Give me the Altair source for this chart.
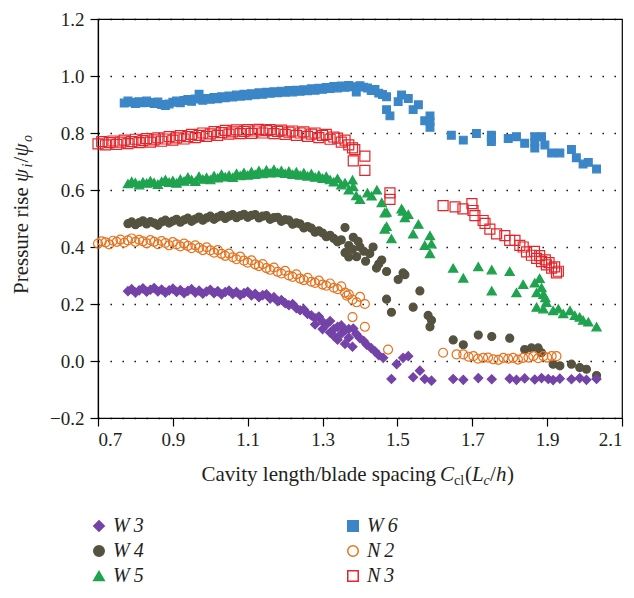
import altair as alt
import pandas as pd

SERIF = "Liberation Serif"
INK = "#231f20"

# ---------------- data ----------------
W6_x = [0.77,0.78,0.79,0.80,0.81,0.82,0.83,0.84,0.85,0.86,
        0.87,0.88,0.89,0.90,0.91,0.92,0.93,0.94,0.95,0.96,
        0.97,0.98,0.99,1.00,1.01,1.02,1.03,1.04,1.05,1.06,
        1.07,1.08,1.09,1.10,1.11,1.12,1.13,1.14,1.15,1.16,
        1.17,1.18,1.19,1.20,1.21,1.22,1.23,1.24,1.25,1.26,
        1.27,1.28,1.29,1.30,1.31,1.32,1.33,1.34,1.35,1.36,
        1.37,1.38,1.39,1.40,1.41,1.42,1.43,1.44,1.45,1.46,
        1.471,1.471,1.48,1.502,1.511,1.529,1.542,1.556,1.573,
        1.587,1.587,1.587,1.644,1.676,1.711,1.751,1.751,1.751,
        1.796,1.818,1.84,1.867,1.867,1.867,
        1.885,1.894,1.912,1.934,1.965,1.978,1.996,2.01,2.032]
W6_y = [0.905,0.912,0.908,0.903,0.910,0.906,0.912,0.907,0.903,0.909,
        0.900,0.896,0.902,0.908,0.912,0.906,0.914,0.918,0.911,0.919,
        0.936,0.915,0.921,0.918,0.925,0.920,0.927,0.924,0.930,0.926,
        0.933,0.929,0.936,0.931,0.938,0.934,0.941,0.936,0.943,0.939,
        0.945,0.941,0.947,0.943,0.949,0.944,0.950,0.946,0.952,0.948,
        0.955,0.950,0.957,0.953,0.960,0.956,0.963,0.958,0.965,0.960,
        0.967,0.962,0.944,0.966,0.961,0.958,0.949,0.953,0.940,0.935,
        0.927,0.882,0.86,0.91,0.933,0.921,0.882,0.899,0.843,
        0.86,0.84,0.82,0.792,0.775,0.798,0.792,0.78,0.77,
        0.781,0.787,0.764,0.787,0.767,0.747,
        0.787,0.758,0.73,0.73,0.742,0.713,0.691,0.697,0.674]

N3_x = [0.70,0.71,0.72,0.73,0.74,0.75,0.76,0.77,0.78,0.79,
        0.80,0.81,0.82,0.83,0.84,0.85,0.86,0.87,0.88,0.89,
        0.90,0.91,0.92,0.93,0.94,0.95,0.96,0.97,0.98,0.99,
        1.00,1.01,1.02,1.03,1.04,1.05,1.06,1.07,1.08,1.09,
        1.10,1.11,1.12,1.13,1.14,1.15,1.16,1.17,1.18,1.19,
        1.20,1.21,1.22,1.23,1.24,1.25,1.26,1.27,1.28,1.29,
        1.30,1.31,1.32,1.33,1.34,1.35,1.36,1.37,1.38,
        1.386,1.413,1.382,1.413,1.48,1.48,
        1.622,1.654,1.675,1.699,1.702,1.707,1.729,1.734,
        1.747,1.765,1.787,1.800,1.814,1.827,1.836,1.845,
        1.858,1.872,1.885,1.898,1.912,1.925,
        1.866,1.88,1.895,1.905,1.92,1.93]
N3_y = [0.762,0.770,0.758,0.766,0.772,0.760,0.768,0.775,0.763,0.770,
        0.778,0.766,0.773,0.780,0.768,0.776,0.783,0.771,0.779,0.787,
        0.775,0.783,0.791,0.779,0.787,0.795,0.784,0.792,0.800,0.788,
        0.797,0.805,0.792,0.801,0.809,0.796,0.804,0.811,0.798,0.806,
        0.812,0.799,0.807,0.813,0.800,0.808,0.812,0.798,0.806,0.810,
        0.795,0.803,0.807,0.792,0.800,0.804,0.788,0.796,0.800,0.784,
        0.792,0.795,0.778,0.786,0.782,0.768,0.775,0.758,0.748,
        0.742,0.719,0.702,0.669,0.59,0.567,
        0.545,0.541,0.534,0.552,0.528,0.51,0.493,0.483,
        0.463,0.446,0.440,0.423,0.423,0.406,0.40,0.383,
        0.371,0.360,0.349,0.337,0.326,0.309,
        0.385,0.37,0.355,0.345,0.33,0.315]

W5_x = [0.78,0.79,0.80,0.81,0.82,0.83,0.84,0.85,0.86,0.87,
        0.88,0.89,0.90,0.91,0.92,0.93,0.94,0.95,0.96,0.97,
        0.98,0.99,1.00,1.01,1.02,1.03,1.04,1.05,1.06,1.07,
        1.08,1.09,1.10,1.11,1.12,1.13,1.14,1.15,1.16,1.17,
        1.18,1.19,1.20,1.21,1.22,1.23,1.24,1.25,1.26,1.27,
        1.28,1.29,1.30,1.31,1.32,1.33,1.34,1.35,1.36,1.37,
        1.38,1.39,1.40,
        1.382,1.42,1.431,1.445,1.458,1.466,1.471,1.466,1.471,1.484,
        1.511,1.515,1.52,1.529,1.542,1.556,1.573,1.587,1.591,1.587,
        1.649,1.676,1.716,1.752,1.80,1.752,1.818,1.836,1.867,1.872,
        1.885,1.89,1.898,1.872,1.89,1.88,1.895,1.916,1.93,1.943,
        1.961,1.974,1.987,1.996,2.01,2.032]
W5_y = [0.622,0.630,0.626,0.618,0.628,0.624,0.632,0.626,0.620,0.630,
        0.636,0.627,0.633,0.624,0.638,0.631,0.645,0.636,0.630,0.648,
        0.638,0.644,0.636,0.650,0.642,0.655,0.646,0.652,0.644,0.658,
        0.650,0.661,0.652,0.664,0.655,0.668,0.657,0.670,0.660,0.672,
        0.661,0.668,0.658,0.666,0.655,0.663,0.652,0.660,0.649,0.657,
        0.645,0.652,0.641,0.648,0.636,0.628,0.640,0.618,0.625,0.600,
        0.635,0.580,0.567,
        0.612,0.59,0.579,0.60,0.556,0.52,0.522,0.463,0.472,0.429,
        0.534,0.526,0.503,0.514,0.446,0.48,0.406,0.44,0.411,0.377,
        0.326,0.291,0.331,0.32,0.314,0.246,0.24,0.269,0.274,0.24,
        0.257,0.234,0.206,0.189,0.183,0.29,0.222,0.177,0.183,0.166,
        0.177,0.16,0.154,0.143,0.137,0.12]

W4_x = [0.78,0.79,0.80,0.81,0.82,0.83,0.84,0.85,0.86,0.87,
        0.88,0.89,0.90,0.91,0.92,0.93,0.94,0.95,0.96,0.97,
        0.98,0.99,1.00,1.01,1.02,1.03,1.04,1.05,1.06,1.07,
        1.08,1.09,1.10,1.11,1.12,1.13,1.14,1.15,1.16,1.17,
        1.18,1.19,1.20,1.21,1.22,1.23,1.24,1.25,1.26,1.27,
        1.28,1.29,1.30,1.31,1.32,1.33,1.34,1.35,1.36,1.37,
        1.38,
        1.36,1.37,1.382,1.391,1.40,1.41,1.426,1.444,1.458,1.471,
        1.471,1.484,1.502,1.515,1.52,1.542,1.56,1.582,1.591,1.587,
        1.649,1.676,1.716,1.752,1.80,1.84,1.858,1.876,1.885,1.916,
        1.934,1.965,1.987,2.005,2.032,
        1.395,1.415,1.435,1.45]
W4_y = [0.482,0.488,0.478,0.486,0.492,0.481,0.489,0.484,0.476,0.488,
        0.494,0.484,0.491,0.497,0.487,0.495,0.501,0.490,0.498,0.505,
        0.494,0.502,0.508,0.497,0.505,0.511,0.500,0.508,0.514,0.503,
        0.510,0.515,0.504,0.511,0.514,0.502,0.508,0.510,0.497,0.503,
        0.504,0.490,0.496,0.494,0.480,0.485,0.481,0.467,0.472,0.466,
        0.452,0.457,0.449,0.436,0.441,0.430,0.418,0.425,0.468,0.405,
        0.392,
        0.38,0.365,0.434,0.366,0.40,0.385,0.377,0.326,0.354,0.314,
        0.217,0.171,0.286,0.309,0.303,0.189,0.246,0.16,0.143,0.12,
        0.074,0.057,0.091,0.086,0.08,0.04,0.046,0.046,0.029,-0.011,
        -0.017,-0.011,-0.023,-0.029,-0.051,
        0.42,0.35,0.40,0.34]

N2_x = [0.70,0.71,0.72,0.73,0.74,0.75,0.76,0.77,0.78,0.79,
        0.80,0.81,0.82,0.83,0.84,0.85,0.86,0.87,0.88,0.89,
        0.90,0.91,0.92,0.93,0.94,0.95,0.96,0.97,0.98,0.99,
        1.00,1.01,1.02,1.03,1.04,1.05,1.06,1.07,1.08,1.09,
        1.10,1.11,1.12,1.13,1.14,1.15,1.16,1.17,1.18,1.19,
        1.20,1.21,1.22,1.23,1.24,1.25,1.26,1.27,1.28,1.29,
        1.30,1.31,1.32,1.33,1.34,1.35,1.36,1.37,
        1.365,1.38,1.391,1.40,1.413,1.38,1.413,1.475,
        1.622,1.658,1.676,1.69,1.703,1.715,1.729,1.742,1.756,1.77,
        1.783,1.796,1.809,1.822,1.836,1.85,1.863,1.876,1.89,1.90,
        1.912,1.925]
N2_y = [0.412,0.420,0.416,0.409,0.422,0.418,0.426,0.415,0.423,0.430,
        0.418,0.425,0.420,0.413,0.424,0.418,0.410,0.421,0.414,0.406,
        0.417,0.409,0.402,0.412,0.404,0.396,0.406,0.397,0.389,0.399,
        0.388,0.380,0.389,0.376,0.369,0.377,0.364,0.357,0.366,0.352,
        0.345,0.353,0.339,0.333,0.340,0.326,0.320,0.328,0.313,0.307,
        0.316,0.300,0.295,0.304,0.289,0.284,0.292,0.278,0.274,0.282,
        0.268,0.264,0.272,0.257,0.252,0.262,0.240,0.234,
        0.229,0.215,0.206,0.225,0.20,0.154,0.12,0.04,
        0.029,0.023,0.023,0.015,0.017,0.008,0.011,0.012,0.006,0.004,
        0.011,0.008,0.011,0.005,0.011,0.012,0.017,0.010,0.017,0.012,
        0.017,0.017]

W3_x = [0.78,0.79,0.80,0.81,0.82,0.83,0.84,0.85,0.86,0.87,
        0.88,0.89,0.90,0.91,0.92,0.93,0.94,0.95,0.96,0.97,
        0.98,0.99,1.00,1.01,1.02,1.03,1.04,1.05,1.06,1.07,
        1.08,1.09,1.10,1.11,1.12,1.13,1.14,1.15,1.16,1.17,
        1.18,1.19,1.20,1.21,1.22,1.23,1.24,1.25,1.26,1.27,
        1.28,1.29,1.30,1.31,1.32,1.33,1.34,1.35,1.36,1.37,
        1.28,1.30,1.32,1.33,1.34,1.35,1.36,1.37,1.38,
        1.382,1.39,1.40,1.41,1.418,1.43,1.44,1.45,1.462,1.484,
        1.498,1.515,1.529,1.542,1.56,1.573,1.591,
        1.649,1.676,1.716,1.752,1.80,1.818,1.84,1.867,1.885,1.903,
        1.916,1.934,1.965,1.987,2.005,2.032]
W3_y = [0.245,0.252,0.240,0.248,0.255,0.243,0.250,0.256,0.244,0.251,
        0.240,0.248,0.254,0.242,0.249,0.238,0.246,0.252,0.240,0.247,
        0.236,0.244,0.250,0.238,0.245,0.234,0.242,0.247,0.235,0.242,
        0.231,0.238,0.243,0.230,0.236,0.224,0.231,0.234,0.219,0.224,
        0.210,0.214,0.203,0.196,0.200,0.185,0.178,0.181,0.165,0.160,
        0.150,0.156,0.138,0.128,0.140,0.112,0.120,0.096,0.108,0.082,
        0.128,0.112,0.100,0.088,0.075,0.125,0.060,0.112,0.05,
        0.114,0.095,0.08,0.07,0.057,0.045,0.034,0.02,0.011,-0.063,
        -0.011,0.011,0.017,-0.057,-0.034,-0.063,-0.069,
        -0.063,-0.066,-0.060,-0.064,-0.062,-0.066,-0.061,-0.065,-0.060,-0.063,
        -0.067,-0.062,-0.064,-0.060,-0.066,-0.063]

X_TICKS = [0.7, 0.9, 1.1, 1.3, 1.5, 1.7, 1.9, 2.1]
Y_TICKS = [-0.2, 0.0, 0.2, 0.4, 0.6, 0.8, 1.0, 1.2]

# legend fills column by column: W3 W4 W5 | W6 N2 N3
ORDER = ["W\u20093", "W\u20094", "W\u20095", "W\u20096", "N\u20092", "N\u20093"]
STROKES = ["#7443a8", "#55533f", "#1fa34f", "#3b86c7", "#e5731f", "#e3262b"]
FILLS = ["#7443a8", "#55533f", "#1fa34f", "#3b86c7", "transparent", "transparent"]
SHAPES = ["diamond", "circle", "triangle-up", "square", "circle", "square"]

series = [  # drawing order (last on top)
    ("W\u20096", W6_x, W6_y, 60),
    ("N\u20093", N3_x, N3_y, 100),
    ("W\u20095", W5_x, W5_y, 85),
    ("W\u20094", W4_x, W4_y, 64),
    ("W\u20093", W3_x, W3_y, 80),
    ("N\u20092", N2_x, N2_y, 80),
]
frames = []
for name, xs, ys, sz in series:
    frames.append(pd.DataFrame({"x": xs, "y": ys, "series": name, "sz": sz}))
df = pd.concat(frames, ignore_index=True)

legend = alt.Legend(
    title=None, orient="none", legendX=-9, legendY=497, columns=2,
    columnPadding=199, rowPadding=5, symbolSize=110, symbolStrokeWidth=1.5,
    labelFont=SERIF, labelFontSize=20, labelFontStyle="italic", labelColor=INK,
    labelOffset=4, padding=0,
)

points = alt.Chart(df).mark_point(filled=False, strokeWidth=1.2, opacity=1).encode(
    x=alt.X("x:Q", scale=alt.Scale(domain=[0.7, 2.1], nice=False, zero=False),
            axis=alt.Axis(values=X_TICKS, format=".1f", title=None, grid=False,
                          labelPadding=4)),
    y=alt.Y("y:Q", scale=alt.Scale(domain=[-0.2, 1.2], nice=False, zero=False),
            axis=alt.Axis(values=Y_TICKS, format=".1f", title=None, grid=True,
                          gridDash=[1.4, 10.6], gridColor="black", gridWidth=1.3,
                          labelPadding=6)),
    stroke=alt.Stroke("series:N", scale=alt.Scale(domain=ORDER, range=STROKES), legend=legend),
    fill=alt.Fill("series:N", scale=alt.Scale(domain=ORDER, range=FILLS), legend=legend),
    shape=alt.Shape("series:N", scale=alt.Scale(domain=ORDER, range=SHAPES), legend=legend),
    size=alt.Size("sz:Q", scale=None),
)

one = pd.DataFrame({"a": [0]})


def piece(s, x, y, size=21, style="normal", align="left", angle=0):
    return alt.Chart(one).mark_text(
        text=s, font=SERIF, fontSize=size, fontStyle=style, align=align,
        baseline="alphabetic", angle=angle, color=INK,
    ).encode(x=alt.value(x), y=alt.value(y))


# x-axis title: Cavity length/blade spacing C_cl(L_c/h)
bx, by = 342, 462
xt = [
    piece("Cavity length/blade spacing", bx - 4, by, align="right"),
    piece("C", bx, by, style="italic"),
    piece("cl", bx + 14, by + 4, size=14),
    piece("(", bx + 25, by),
    piece("L", bx + 32, by, style="italic"),
    piece("c", bx + 43.5, by + 4, size=14, style="italic"),
    piece("/", bx + 50, by),
    piece("h", bx + 56, by, style="italic"),
    piece(")", bx + 67, by),
]

# y-axis title: Pressure rise psi_i/psi_o (rotated)
yx, y0 = -70, 275
yt = [
    piece("Pressure rise", yx, y0, angle=270),
    piece("\u03c8", yx, y0 - 112, style="italic", angle=270),
    piece("i", yx + 4, y0 - 126.5, size=14, style="italic", angle=270),
    piece("/", yx, y0 - 131.5, angle=270),
    piece("\u03c8", yx, y0 - 137.5, style="italic", angle=270),
    piece("o", yx + 4, y0 - 152, size=14, style="italic", angle=270),
]

chart = alt.layer(points, *xt, *yt).properties(
    width=524, height=399, autosize="none",
    padding={"left": 90, "top": 11, "right": 4, "bottom": 170},
).configure_view(stroke="black", strokeWidth=1.2).configure_axis(
    labelFont=SERIF, labelFontSize=19, labelColor=INK,
    domainColor="black", domainWidth=1.2, tickColor="black", tickWidth=1.2, tickSize=8,
)

chart.save("out.html", embed_options={"renderer": "svg", "actions": False})
